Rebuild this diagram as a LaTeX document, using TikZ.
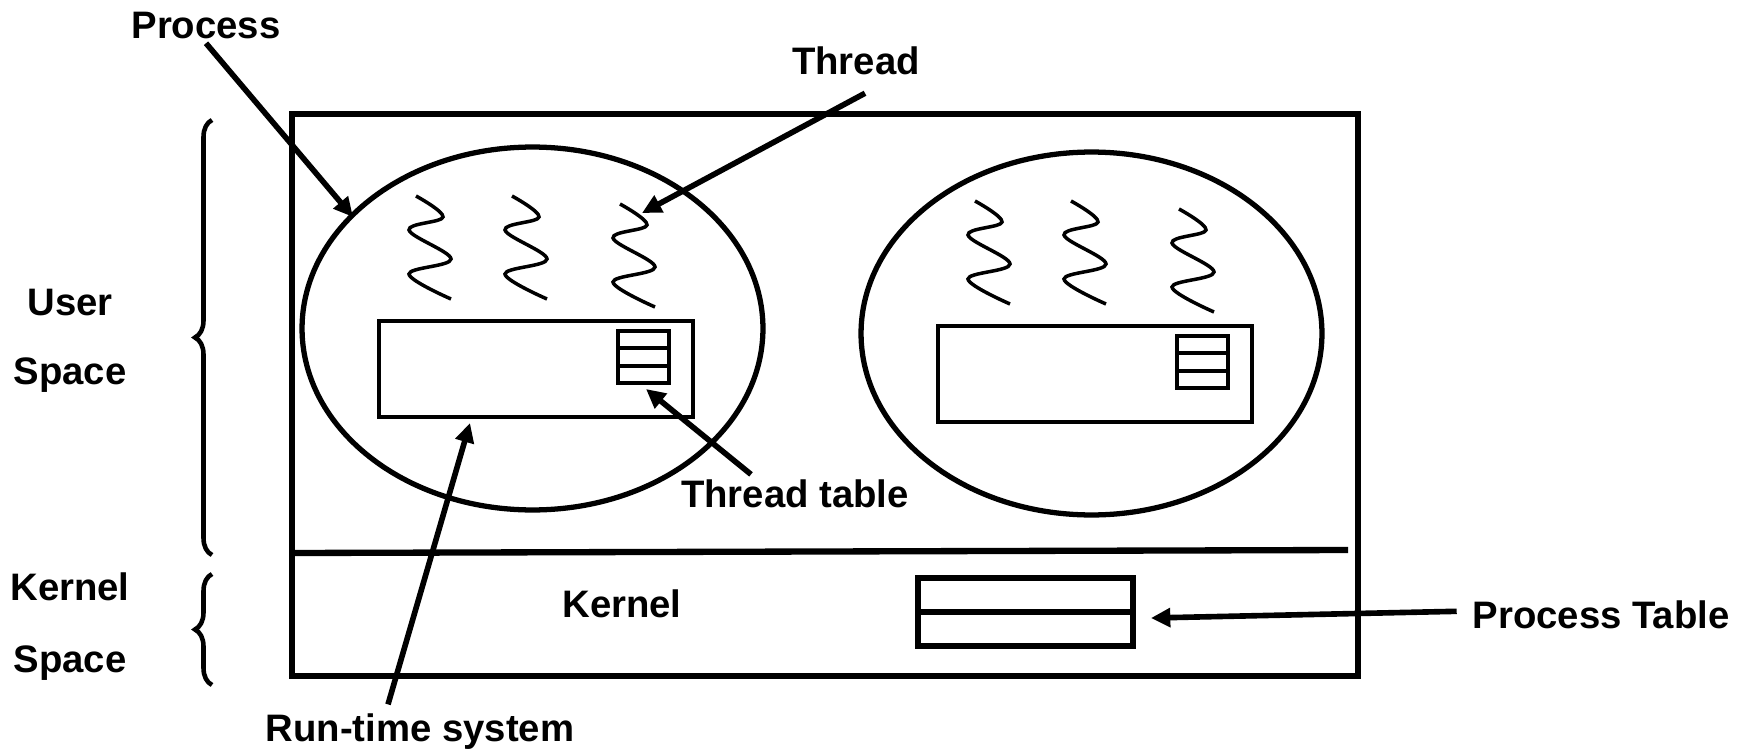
\documentclass[tikz,border=0pt]{standalone}
\usepackage{fontspec}
\setmainfont{Liberation Sans}
\usetikzlibrary{arrows.meta,calc,decorations.pathreplacing,shapes.geometric}

\begin{document}
\begin{tikzpicture}[x=0.02cm,y=-0.02cm,
    lbl/.style={font=\fontsize{21.8}{26}\selectfont\bfseries, inner sep=2pt, anchor=base},
    ptr/.style={line width=3.2pt, -{Triangle[length=11pt,width=10.5pt]}},
    proc/.style={draw, ellipse, line width=3pt, inner sep=0, minimum width=9.22cm, minimum height=7.26cm},
    rts/.style={draw, rectangle, line width=2.5pt, inner sep=0, minimum width=6.28cm, minimum height=1.92cm},
    ttab/.style={draw, rectangle, line width=2pt, inner sep=0, minimum width=1.02cm, minimum height=1.04cm},
    spacebrace/.style={decorate, decoration={brace, amplitude=0.34cm}, line width=2.6pt},
    squiggle/.pic={\draw[line width=2pt] plot[smooth, tension=0.6] coordinates {(0,0) (27,21) (-7,34) (35,63) (-7,78) (35,103)};}]
        \useasboundingbox (0,0) rectangle (1747,750);

        % machine box, split into user and kernel part
        \draw[line width=3.6pt] (292,114) rectangle (1358,676);
        \draw[line width=3.6pt] (292,553) -- (1348,550);

        % two processes, each with its threads and run-time system
        \node[proc] (proc1) at (532.5,328.5) {};
        \node[proc] (proc2) at (1091.5,333.5) {};
        \node[rts] (rts1) at (536,369) {};
        \node[rts] (rts2) at (1095,374) {};
        \node[ttab] (ttab1) at (643.5,357) {};
        \node[ttab] (ttab2) at (1202.5,362) {};
        \foreach \t in {ttab1,ttab2}
            \foreach \f in {1/3,2/3}
                \draw[line width=2pt] ($(\t.north west)!\f!(\t.south west)$) -- ($(\t.north east)!\f!(\t.south east)$);
        \foreach \x/\y in {416/196,512/196,620/204,975/201,1071/201,1179/209}
            \pic at (\x,\y) {squiggle};

        % process table in the kernel
        \node[draw, line width=3pt, inner sep=0, minimum width=4.3cm, minimum height=1.36cm] (ptab) at (1025.5,612) {};
        \draw[line width=3pt] (ptab.west) -- (ptab.east);

        \node[lbl] (proclbl) at (206,39) {Process};
        \node[lbl] (thrlbl) at (856,75) {Thread};
        \node[lbl] (ttlbl) at (795,507) {Thread table};
        \node[lbl] (rtlbl) at (420,741) {Run-time system};
        \node[lbl] (kerlbl) at (622,617) {Kernel};
        \node[lbl] (ptlbl) at (1601,628) {Process Table};
        \node[lbl] (userlbl) at (70,315) {User};
        \node[lbl] (userlbl2) at (70,384) {Space};
        \node[lbl] (kspclbl) at (70,600) {Kernel};
        \node[lbl] (kspclbl2) at (70,672) {Space};

        \draw[spacebrace] (212,555) -- (212,120);
        \draw[spacebrace] (212,685) -- (212,574);

        \coordinate (proctip) at (353,217);
        \coordinate (thrtip) at (642,213);
        \coordinate (tttip) at (646,389);
        \coordinate (rttip) at (470,423);
        \coordinate (pttip) at (1151,618);

        \draw[ptr] (proclbl.south) -- (proctip);
        \draw[ptr] ($(thrlbl.south)+(9,14)$) -- (thrtip);
        \draw[ptr] ($(ttlbl.north)+(-44,-1)$) -- (tttip);
        \draw[ptr] ($(rtlbl.north)+(-32,-5)$) -- (rttip);
        \draw[ptr] ($(ptlbl.west)+(-12,-3)$) -- (pttip);
\end{tikzpicture}
\end{document}
